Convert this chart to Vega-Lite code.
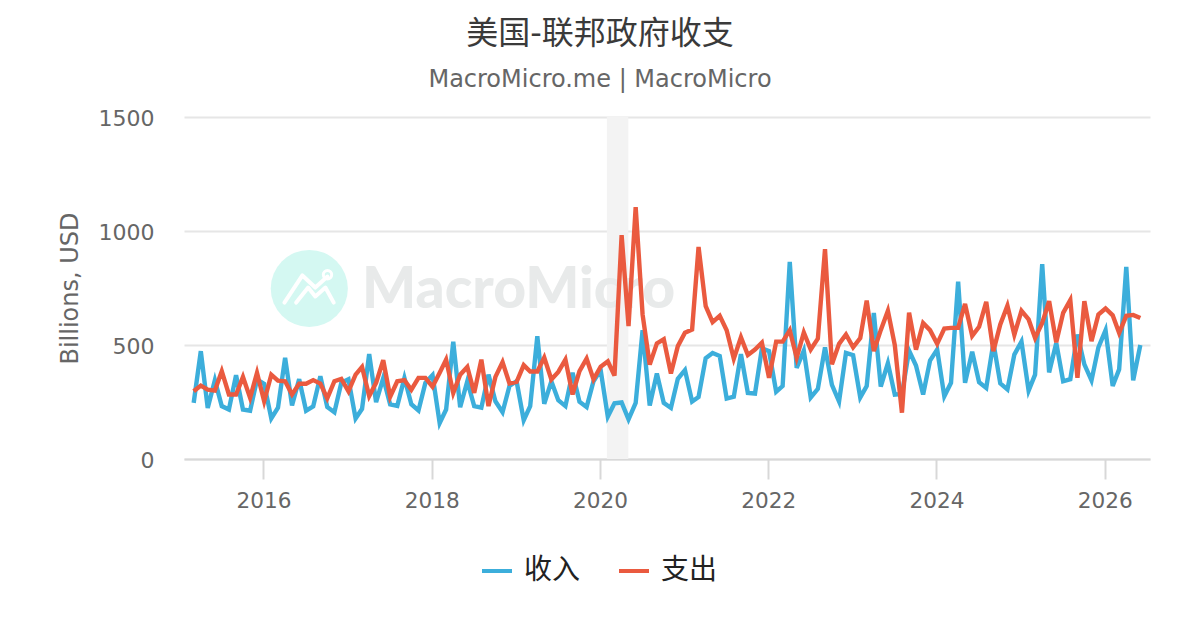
{
  "$schema": "https://vega.github.io/schema/vega-lite/v6.json",
  "autosize": "none",
  "padding": {"left": 184, "top": 117, "right": 50, "bottom": 171},
  "width": 966,
  "height": 342,
  "background": "white",
  "title": {
    "text": "美国-联邦政府收支",
    "subtitle": "MacroMicro.me | MacroMicro",
    "anchor": "middle",
    "dx": -67,
    "offset": 15,
    "font": "DejaVu Sans, Noto Sans CJK SC",
    "fontSize": 32,
    "fontWeight": "normal",
    "color": "#3a3a3a",
    "subtitleFont": "DejaVu Sans, Noto Sans CJK SC",
    "subtitleFontSize": 24,
    "subtitleColor": "#666666",
    "subtitlePadding": 17
  },
  "config": {
    "view": {"stroke": null},
    "font": "DejaVu Sans, Noto Sans CJK SC"
  },
  "datasets": {
    "series": [
      {"date":"2015-03-04","income":246,"spending":297},
      {"date":"2015-04-04","income":473,"spending":322},
      {"date":"2015-05-04","income":224,"spending":304},
      {"date":"2015-06-04","income":346,"spending":300},
      {"date":"2015-07-04","income":232,"spending":385},
      {"date":"2015-08-04","income":217,"spending":283},
      {"date":"2015-09-04","income":368,"spending":283},
      {"date":"2015-10-04","income":217,"spending":360},
      {"date":"2015-11-04","income":212,"spending":268},
      {"date":"2015-12-04","income":349,"spending":378},
      {"date":"2016-01-04","income":330,"spending":253},
      {"date":"2016-02-04","income":178,"spending":370},
      {"date":"2016-03-04","income":225,"spending":344},
      {"date":"2016-04-04","income":444,"spending":341},
      {"date":"2016-05-04","income":235,"spending":283},
      {"date":"2016-06-04","income":350,"spending":330},
      {"date":"2016-07-04","income":212,"spending":330},
      {"date":"2016-08-04","income":231,"spending":346},
      {"date":"2016-09-04","income":363,"spending":331},
      {"date":"2016-10-04","income":228,"spending":266},
      {"date":"2016-11-04","income":205,"spending":341},
      {"date":"2016-12-04","income":334,"spending":351},
      {"date":"2017-01-04","income":350,"spending":297},
      {"date":"2017-02-04","income":178,"spending":370},
      {"date":"2017-03-04","income":220,"spending":404},
      {"date":"2017-04-04","income":460,"spending":276},
      {"date":"2017-05-04","income":249,"spending":334},
      {"date":"2017-06-04","income":355,"spending":433},
      {"date":"2017-07-04","income":240,"spending":273},
      {"date":"2017-08-04","income":233,"spending":341},
      {"date":"2017-09-04","income":355,"spending":346},
      {"date":"2017-10-04","income":240,"spending":304},
      {"date":"2017-11-04","income":213,"spending":356},
      {"date":"2017-12-04","income":334,"spending":356},
      {"date":"2018-01-04","income":368,"spending":317},
      {"date":"2018-02-04","income":158,"spending":378},
      {"date":"2018-03-04","income":217,"spending":436},
      {"date":"2018-04-04","income":514,"spending":290},
      {"date":"2018-05-04","income":227,"spending":370},
      {"date":"2018-06-04","income":341,"spending":404},
      {"date":"2018-07-04","income":232,"spending":290},
      {"date":"2018-08-04","income":225,"spending":436},
      {"date":"2018-09-04","income":370,"spending":232},
      {"date":"2018-10-04","income":253,"spending":360},
      {"date":"2018-11-04","income":205,"spending":425},
      {"date":"2018-12-04","income":320,"spending":331},
      {"date":"2019-01-04","income":341,"spending":338},
      {"date":"2019-02-04","income":170,"spending":412},
      {"date":"2019-03-04","income":232,"spending":384},
      {"date":"2019-04-04","income":539,"spending":384},
      {"date":"2019-05-04","income":242,"spending":445},
      {"date":"2019-06-04","income":341,"spending":349},
      {"date":"2019-07-04","income":258,"spending":382},
      {"date":"2019-08-04","income":232,"spending":436},
      {"date":"2019-09-04","income":378,"spending":283},
      {"date":"2019-10-04","income":251,"spending":385},
      {"date":"2019-11-04","income":228,"spending":440},
      {"date":"2019-12-04","income":341,"spending":349},
      {"date":"2020-01-04","income":390,"spending":405},
      {"date":"2020-02-04","income":186,"spending":428},
      {"date":"2020-03-04","income":244,"spending":366},
      {"date":"2020-04-04","income":248,"spending":982},
      {"date":"2020-05-04","income":174,"spending":583},
      {"date":"2020-06-04","income":246,"spending":1105},
      {"date":"2020-07-04","income":565,"spending":634},
      {"date":"2020-08-04","income":235,"spending":414},
      {"date":"2020-09-04","income":375,"spending":507},
      {"date":"2020-10-04","income":246,"spending":525},
      {"date":"2020-11-04","income":224,"spending":375},
      {"date":"2020-12-04","income":352,"spending":495},
      {"date":"2021-01-04","income":390,"spending":554},
      {"date":"2021-02-04","income":252,"spending":568},
      {"date":"2021-03-04","income":272,"spending":930},
      {"date":"2021-04-04","income":442,"spending":670},
      {"date":"2021-05-04","income":465,"spending":600},
      {"date":"2021-06-04","income":452,"spending":628},
      {"date":"2021-07-04","income":265,"spending":565},
      {"date":"2021-08-04","income":273,"spending":440},
      {"date":"2021-09-04","income":460,"spending":534},
      {"date":"2021-10-04","income":290,"spending":456},
      {"date":"2021-11-04","income":287,"spending":480},
      {"date":"2021-12-04","income":485,"spending":510},
      {"date":"2022-01-04","income":473,"spending":356},
      {"date":"2022-02-04","income":295,"spending":515},
      {"date":"2022-03-04","income":320,"spending":515},
      {"date":"2022-04-04","income":865,"spending":565},
      {"date":"2022-05-04","income":400,"spending":444},
      {"date":"2022-06-04","income":475,"spending":555},
      {"date":"2022-07-04","income":270,"spending":480},
      {"date":"2022-08-04","income":308,"spending":528},
      {"date":"2022-09-04","income":490,"spending":920},
      {"date":"2022-10-04","income":325,"spending":415},
      {"date":"2022-11-04","income":252,"spending":505},
      {"date":"2022-12-04","income":465,"spending":546},
      {"date":"2023-01-04","income":455,"spending":490},
      {"date":"2023-02-04","income":270,"spending":530},
      {"date":"2023-03-04","income":320,"spending":695},
      {"date":"2023-04-04","income":640,"spending":473},
      {"date":"2023-05-04","income":318,"spending":565},
      {"date":"2023-06-04","income":420,"spending":650},
      {"date":"2023-07-04","income":282,"spending":500},
      {"date":"2023-08-04","income":285,"spending":203},
      {"date":"2023-09-04","income":475,"spending":642},
      {"date":"2023-10-04","income":410,"spending":480},
      {"date":"2023-11-04","income":283,"spending":596},
      {"date":"2023-12-04","income":432,"spending":565},
      {"date":"2024-01-04","income":480,"spending":505},
      {"date":"2024-02-04","income":275,"spending":572},
      {"date":"2024-03-04","income":334,"spending":575},
      {"date":"2024-04-04","income":778,"spending":575},
      {"date":"2024-05-04","income":334,"spending":680},
      {"date":"2024-06-04","income":470,"spending":540},
      {"date":"2024-07-04","income":337,"spending":580},
      {"date":"2024-08-04","income":312,"spending":689},
      {"date":"2024-09-04","income":510,"spending":473},
      {"date":"2024-10-04","income":332,"spending":590},
      {"date":"2024-11-04","income":305,"spending":672},
      {"date":"2024-12-04","income":458,"spending":545},
      {"date":"2025-01-04","income":515,"spending":650},
      {"date":"2025-02-04","income":300,"spending":612},
      {"date":"2025-03-04","income":370,"spending":531},
      {"date":"2025-04-04","income":855,"spending":597},
      {"date":"2025-05-04","income":380,"spending":692},
      {"date":"2025-06-04","income":509,"spending":512},
      {"date":"2025-07-04","income":341,"spending":641},
      {"date":"2025-08-04","income":350,"spending":697},
      {"date":"2025-09-04","income":546,"spending":356},
      {"date":"2025-10-04","income":415,"spending":692},
      {"date":"2025-11-04","income":345,"spending":517},
      {"date":"2025-12-04","income":490,"spending":634},
      {"date":"2026-01-04","income":565,"spending":660},
      {"date":"2026-02-04","income":320,"spending":630},
      {"date":"2026-03-04","income":393,"spending":553},
      {"date":"2026-04-04","income":843,"spending":628},
      {"date":"2026-05-04","income":345,"spending":632},
      {"date":"2026-06-04","income":500,"spending":618}
    ],
    "logoLine": [
      {"date":"2016-04-01","level":686,"part":"a"},
      {"date":"2016-06-18","level":805,"part":"a"},
      {"date":"2016-08-13","level":752,"part":"a"},
      {"date":"2016-10-05","level":800,"part":"a"},
      {"date":"2016-05-22","level":686,"part":"b"},
      {"date":"2016-07-13","level":752,"part":"b"},
      {"date":"2016-08-13","level":713,"part":"b"},
      {"date":"2016-09-26","level":752,"part":"b"},
      {"date":"2016-11-01","level":686,"part":"b"}
    ]
  },
  "encoding": {
    "x": {
      "field": "date",
      "type": "temporal",
      "scale": {"type": "utc", "domain": ["2015-01-21", "2026-07-16"]},
      "axis": {
        "title": null,
        "format": "%Y",
        "tickCount": {"interval": "year", "step": 2},
        "grid": false,
        "domainColor": "#d8d8d8",
        "domainWidth": 2,
        "tickColor": "#d8d8d8",
        "tickWidth": 2,
        "tickSize": 20,
        "labelFontSize": 21.6,
        "labelColor": "#666666",
        "labelPadding": 11,
        "labelFlush": false
      }
    }
  },
  "layer": [
    {
      "data": {"values": [{"date": "2020-01-31", "end": "2020-05-03"}]},
      "mark": {"type": "rect", "color": "#f3f3f3"},
      "encoding": {"x2": {"field": "end"}}
    },
    {
      "data": {"values": [{"date": "2016-07-18", "level": 748}]},
      "mark": {"type": "point", "filled": true, "opacity": 1, "color": "#d4f8f2", "size": 5950},
      "encoding": {
        "y": {"field": "level", "type": "quantitative", "scale": {"domain": [0, 1500], "nice": false}, "axis": {
          "title": "Billions, USD",
          "values": [0, 500, 1000, 1500],
          "format": "d",
          "domain": false,
          "ticks": false,
          "gridColor": "#e6e6e6",
          "gridWidth": 2,
          "labelFontSize": 22,
          "labelColor": "#666666",
          "labelPadding": 30,
          "labelOffset": 1.5,
          "titleFontSize": 24,
          "titleFontWeight": "normal",
          "titleColor": "#666666",
          "titlePadding": 16
        }}
      }
    },
    {
      "data": {"name": "logoLine"},
      "mark": {"type": "line", "color": "white", "strokeWidth": 4, "strokeCap": "round", "strokeJoin": "round"},
      "encoding": {
        "y": {"field": "level", "type": "quantitative"},
        "detail": {"field": "part"},
        "order": {"field": "date", "type": "temporal"}
      }
    },
    {
      "data": {"values": [{"date": "2016-10-05", "level": 808}]},
      "mark": {"type": "point", "filled": false, "opacity": 1, "color": "white", "strokeWidth": 3, "size": 70},
      "encoding": {"y": {"field": "level", "type": "quantitative"}}
    },
    {
      "data": {"values": [{"date": "2017-03-04", "level": 664, "brand": "MacroMicro"}]},
      "mark": {"type": "text", "align": "left", "baseline": "alphabetic", "font": "Lato", "fontWeight": 900, "fontSize": 57, "color": "#e8eaea"},
      "encoding": {
        "y": {"field": "level", "type": "quantitative"},
        "text": {"field": "brand"}
      }
    },
    {
      "data": {"name": "series"},
      "mark": {"type": "line", "strokeWidth": 4.4},
      "encoding": {
        "y": {"field": "income", "type": "quantitative"},
        "color": {
          "datum": "收入",
          "scale": {"domain": ["收入", "支出"], "range": ["#3caedb", "#ea5a3f"]},
          "legend": {
            "title": null,
            "orient": "none",
            "direction": "horizontal",
            "legendX": 296,
            "legendY": 437,
            "symbolType": "stroke",
            "symbolSize": 900,
            "symbolStrokeWidth": 4,
            "labelFontSize": 28,
            "labelColor": "#222222",
            "labelOffset": 10,
            "columnPadding": 30,
            "labelFont": "Noto Sans CJK SC"
          }
        }
      }
    },
    {
      "data": {"name": "series"},
      "mark": {"type": "line", "strokeWidth": 4.4},
      "encoding": {
        "y": {"field": "spending", "type": "quantitative"},
        "color": {"datum": "支出"}
      }
    }
  ]
}
